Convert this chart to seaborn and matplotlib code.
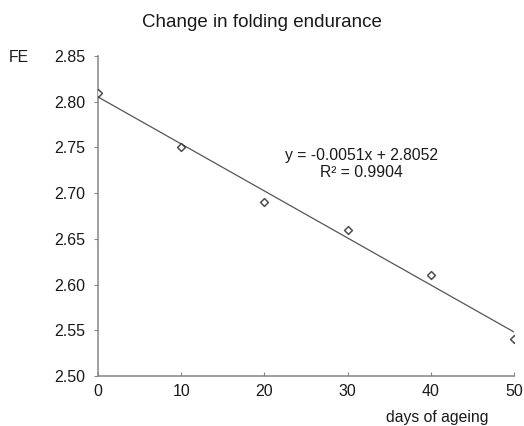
import matplotlib
matplotlib.use("Agg")
import matplotlib.pyplot as plt
import seaborn as sns
import numpy as np

# datos
days = [0, 10, 20, 30, 40, 50]
fe = [2.81, 2.75, 2.69, 2.66, 2.61, 2.54]
y_ticks = [2.50, 2.55, 2.60, 2.65, 2.70, 2.75, 2.80, 2.85]
x_ticks = [0, 10, 20, 30, 40, 50]

sns.set_style("white")
plt.rcParams['font.family'] = ['Liberation Sans', 'DejaVu Sans']

fig = plt.figure(figsize=(5.24, 4.26), dpi=100)
ax = fig.add_axes([0.187, 0.1174, 0.794, 0.7511])

# puntos + recta de regresion
sns.regplot(x=days, y=fe, ax=ax, ci=None, marker='D', truncate=True,
            scatter_kws={'s': 16, 'facecolors': 'white', 'edgecolors': '#222222',
                         'linewidths': 1.1, 'zorder': 3},
            line_kws={'color': '#555555', 'linewidth': 0.9})

slope, intercept = np.polyfit(days, fe, 1)
pred = np.polyval([slope, intercept], days)
r2 = 1 - np.sum((np.array(fe) - pred) ** 2) / np.sum((np.array(fe) - np.mean(fe)) ** 2)
ax.text(0.634, 0.6625, f"y = {slope:.4f}x + {intercept:.4f}\nR² = {r2:.4f}",
        transform=ax.transAxes, ha='center', va='center', fontsize=11.3,
        linespacing=1.1, color='#1a1a1a')

ax.set_xlim(0, 50)
ax.set_ylim(2.50, 2.85)
ax.set_xticks(x_ticks)
ax.set_yticks(y_ticks)
ax.set_yticklabels([f"{v:.2f}" for v in y_ticks])

for s in ['top', 'right']:
    ax.spines[s].set_visible(False)
for s in ['left', 'bottom']:
    ax.spines[s].set_color('#858585')
    ax.spines[s].set_linewidth(1.1)

ax.tick_params(axis='y', direction='out', length=3, color='#858585',
               labelsize=11.5, labelcolor='#1a1a1a', left=True, pad=6)
ax.tick_params(axis='x', direction='in', length=3, color='#858585',
               labelsize=11.5, labelcolor='#1a1a1a', bottom=True, pad=6)
ax.set_xlabel('')
ax.set_ylabel('')

fig.text(0.5, 0.948, 'Change in folding endurance', ha='center', va='center',
         fontsize=13.5, color='#1a1a1a')
fig.text(0.035, 0.864, 'FE', ha='center', va='center', fontsize=11.3, color='#1a1a1a')
fig.text(0.834, 0.019, 'days of ageing', ha='center', va='center', fontsize=11.3,
         color='#1a1a1a')

fig.savefig('out.png', dpi=100)
